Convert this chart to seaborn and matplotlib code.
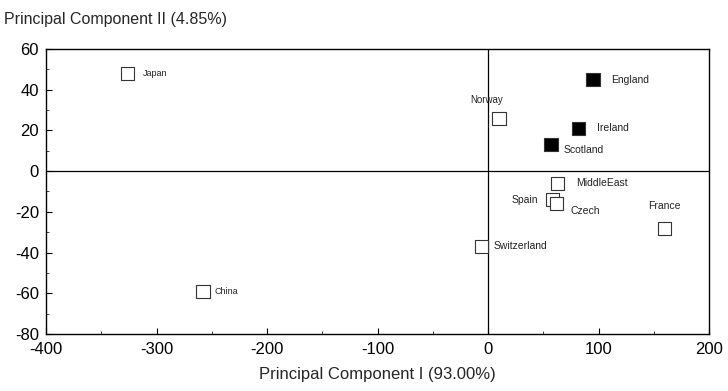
import matplotlib
matplotlib.use("Agg")
import matplotlib.pyplot as plt
from matplotlib.ticker import MultipleLocator
import seaborn as sns
import pandas as pd

# scores
countries = ["Japan", "Norway", "England", "Ireland", "Scotland", "MiddleEast",
             "Spain", "Czech", "France", "Switzerland", "China"]
pc1 = [-326, 10, 95, 82, 57, 63, 58, 62, 160, -6, -258]
pc2 = [48, 26, 45, 21, 13, -6, -14, -16, -28, -37, -59]
group = ["open", "open", "filled", "filled", "filled", "open",
         "open", "open", "open", "open", "open"]

df = pd.DataFrame({"country": countries, "pc1": pc1, "pc2": pc2, "group": group})

# label offsets in points, with alignment and size
label_pos = {
    "Japan": (11, 0, "left", 6.5),
    "Norway": (-9, 13, "center", 7),
    "England": (13, 0, "left", 7.5),
    "Ireland": (13, 0, "left", 7.5),
    "Scotland": (9, -4, "left", 7.5),
    "MiddleEast": (13, 0, "left", 7.5),
    "Spain": (-10, 0, "right", 7.5),
    "Czech": (10, -5, "left", 7.5),
    "France": (0, 16, "center", 7.5),
    "Switzerland": (9, 0, "left", 7.5),
    "China": (8, 0, "left", 6.5),
}

sns.set_style("white")
plt.rcParams["font.family"] = ["Liberation Sans", "DejaVu Sans"]
plt.rcParams["axes.unicode_minus"] = False

fig = plt.figure(figsize=(7.28, 3.91), dpi=100)
ax = fig.add_axes([0.0632, 0.1458, 0.9107, 0.7289])

ax.axhline(0, color="black", lw=0.9, zorder=1)
ax.axvline(0, color="black", lw=0.9, zorder=1)

sns.scatterplot(data=df, x="pc1", y="pc2", hue="group",
                palette={"filled": "black", "open": "white"},
                marker="s", s=90, edgecolor="#333333", linewidth=0.8,
                legend=False, ax=ax, zorder=3)

for _, r in df.iterrows():
    dx, dy, ha, fs = label_pos[r["country"]]
    ax.annotate(r["country"], (r["pc1"], r["pc2"]), xytext=(dx, dy),
                textcoords="offset points", ha=ha, va="center",
                fontsize=fs, color="#222222")

ax.set_xlim(-400, 200)
ax.set_ylim(-80, 60)
ax.xaxis.set_major_locator(MultipleLocator(100))
ax.xaxis.set_minor_locator(MultipleLocator(50))
ax.yaxis.set_major_locator(MultipleLocator(20))
ax.yaxis.set_minor_locator(MultipleLocator(10))
ax.tick_params(which="major", direction="in", length=4, width=0.8,
               labelsize=12, colors="black")
ax.tick_params(axis="x", which="major", pad=6)
ax.tick_params(axis="y", which="major", pad=5)
ax.tick_params(which="minor", direction="in", length=2, width=0.6)
ax.tick_params(axis="x", which="both", bottom=True)
ax.tick_params(axis="y", which="both", left=True)

for sp in ax.spines.values():
    sp.set_color("black")
    sp.set_linewidth(1.0)

ax.set_xlabel("Principal Component I (93.00%)", fontsize=12, labelpad=7)
ax.set_ylabel("")
fig.text(0.005, 0.95, "Principal Component II (4.85%)", fontsize=11.5,
         ha="left", va="center")

fig.savefig("out.png", dpi=100)
